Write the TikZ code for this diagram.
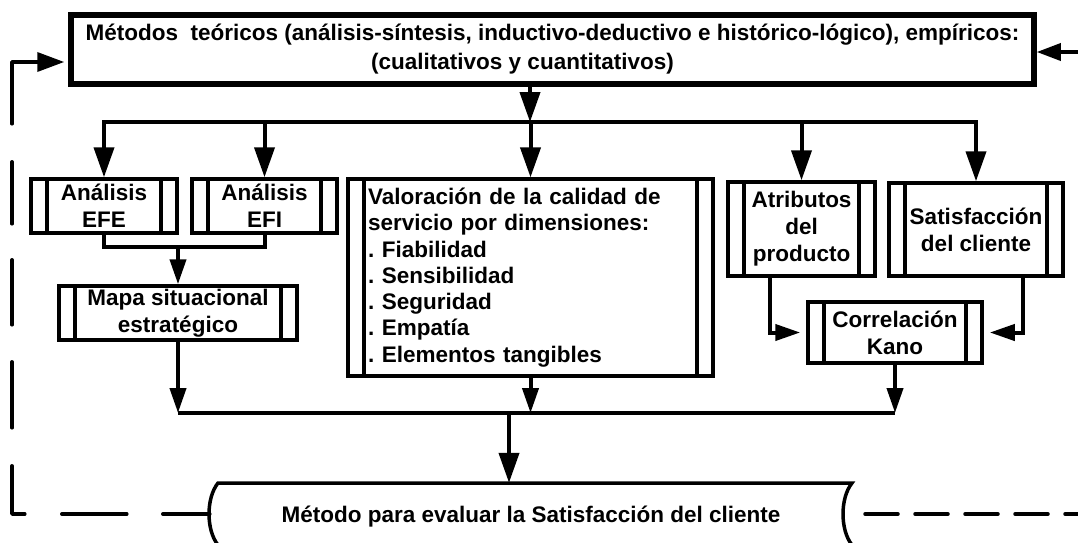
\documentclass[tikz,border=0pt]{standalone}
\usepackage{fontspec}
\setmainfont{Liberation Sans}
\usetikzlibrary{arrows.meta}
\frenchspacing
\begin{document}
\begin{tikzpicture}[x=1pt,y=-1pt,
  BigT/.tip={Triangle[length=30pt,width=20pt]},
  SmT/.tip={Triangle[length=25pt,width=16pt]},
  txt/.style={font=\bfseries\fontsize{22.5}{27}\selectfont, align=center, inner sep=0pt},
  ppbox/.style={txt, draw, line width=3.5pt,
    path picture={\draw[line width=3.5pt]
      ([xshift=16pt]path picture bounding box.north west) -- ([xshift=16pt]path picture bounding box.south west)
      ([xshift=-16pt]path picture bounding box.north east) -- ([xshift=-16pt]path picture bounding box.south east);}},
  conn/.style={line width=4pt},
  dline/.style={line width=3.5pt, line cap=round, line join=round}]
\fill[white] (0,0) rectangle (1078,542);
\useasboundingbox (0,0) rectangle (1078,542);

% nodes
\node[txt, draw, line width=5.5pt, minimum width=963pt, minimum height=69pt,
  font=\bfseries\fontsize{22.5}{29}\selectfont] (top) at (552.5,49.5)
  {Métodos~ teóricos (análisis-síntesis, inductivo-deductivo e histórico-lógico), empíricos:\\(cualitativos y cuantitativos)\hspace*{60pt}};
\node[ppbox, minimum width=146pt, minimum height=54pt] (efe) at (104,206) {Análisis\\EFE};
\node[ppbox, minimum width=145pt, minimum height=54pt] (efi) at (264.5,206) {Análisis\\EFI};
\node[ppbox, minimum width=238pt, minimum height=54pt] (mapa) at (178,313) {Mapa situacional\\estratégico};
\node[ppbox, line width=3.3pt, minimum width=365pt, minimum height=197pt, text width=325pt, align=left,
  font=\bfseries\fontsize{22.5}{26.3}\selectfont] (val) at (530.5,277.5)
  {Valoración de la calidad de\\servicio por dimensiones:\\. Fiabilidad\\. Sensibilidad\\. Seguridad\\. Empatía\\. Elementos tangibles};
\node[ppbox, minimum width=147pt, minimum height=94pt] (atr) at (801.5,229) {Atributos\\del\\producto};
\node[ppbox, minimum width=174pt, minimum height=93pt] (sat) at (976,229.5) {Satisfacción\\del cliente};
\node[ppbox, minimum width=174pt, minimum height=61pt] (cor) at (895,332.5) {Correlación\\Kano};

% bottom shape
\draw[line width=3.5pt, fill=white] (218,483) -- (852,483) .. controls (840,498) and (840,530) .. (852,545)
  -- (218,545) .. controls (206,530) and (206,498) .. (218,483) -- cycle;
\node[txt, minimum width=642pt, minimum height=68pt] (bot) at (531,517) {Método para evaluar la Satisfacción del cliente};

% top bus
\coordinate (busT) at (530,122);
\draw[conn,-BigT] (top.south -| busT) -- (busT);
\foreach \n in {efe,efi,val,atr,sat} \draw[conn,-BigT] (busT) -| (\n.north);

% EFE/EFI join
\coordinate (join) at (178,247);
\draw[conn] (efe.south) |- (join) -| (efi.south);
\draw[conn,-SmT] (join) -- (mapa.north);

% bottom bus
\coordinate (bus2) at (509,413);
\draw[conn] (mapa.south |- bus2) -- (cor.south |- bus2);
\draw[conn,-SmT] (mapa.south) -- (mapa.south |- bus2);
\draw[conn,-SmT] (val.south) -- (val.south |- bus2);
\draw[conn,-SmT] (cor.south) -- (cor.south |- bus2);
\draw[conn,-BigT] (bus2) -- (bus2 |- bot.north);

% to Kano
\draw[conn,-SmT,shorten >=6pt] ([xshift=-31.5pt]atr.south) |- (cor.west);
\draw[conn,-SmT,shorten >=6pt] ([xshift=47pt]sat.south) |- (cor.east);

% feedback left
\coordinate (fbL) at (12,514);
\coordinate (fbT) at (12,62);
\draw[dline, dash pattern=on 47pt off 36pt on 65pt off 37pt on 61pt off 38pt on 66pt off 37pt on 65pt off 36pt on 62pt off 38pt on 200pt,
  -{Triangle[length=27pt,width=19pt]}, shorten >=4pt]
  ([yshift=3pt]bot.west) -- (fbL) -- (fbT) -- (top.west |- fbT);

% feedback right
\coordinate (fbR) at (1078,514);
\coordinate (fbRT) at (1078,52);
\draw[dline, dash pattern=on 33pt off 17pt, dash phase=20pt] (fbR) -- ([xshift=-2pt,yshift=3pt]bot.east);
\draw[conn, line width=3.5pt, -{Triangle[length=24pt,width=17pt]}] (fbRT) -- (top.east |- fbRT);
\end{tikzpicture}
\end{document}
